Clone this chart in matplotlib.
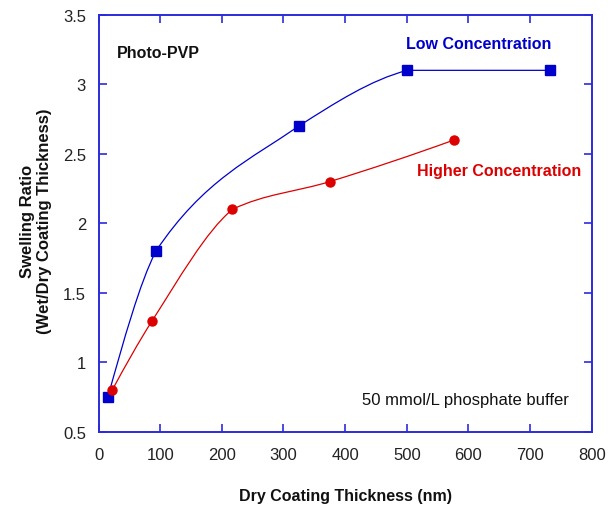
import numpy as np
import matplotlib
matplotlib.use("Agg")
import matplotlib.pyplot as plt
from matplotlib.path import Path
from matplotlib.patches import PathPatch

plt.rcParams['font.family'] = ['Liberation Sans', 'DejaVu Sans']

# data
low_x = [15, 93, 325, 501, 733]
low_y = [0.75, 1.8, 2.7, 3.1, 3.1]
high_x = [22, 87, 217, 375, 577]
high_y = [0.8, 1.3, 2.1, 2.3, 2.6]

xticks = [0, 100, 200, 300, 400, 500, 600, 700, 800]
yticks = [0.5, 1, 1.5, 2, 2.5, 3, 3.5]
ytick_labels = ['0.5', '1', '1.5', '2', '2.5', '3', '3.5']

blue = '#0000cc'
red = '#dd0000'
axis_col = '#2b2bdd'


def end_slope(h0, h1, m0, m1):
    v = ((2 * h0 + h1) * m0 - h0 * m1) / (h0 + h1)
    if np.sign(v) != np.sign(m0):
        v = 0
    elif np.sign(m0) != np.sign(m1) and abs(v) > abs(3 * m0):
        v = 3 * m0
    return v


def smooth_path(x, y):
    # cubic segments: arrive with the mean slope, leave with a monotone (pchip) slope
    x = np.asarray(x, float)
    y = np.asarray(y, float)
    n = len(x)
    h = np.diff(x)
    m = np.diff(y) / h
    d_in = np.zeros(n)
    d_out = np.zeros(n)
    for k in range(1, n - 1):
        d_in[k] = (m[k - 1] + m[k]) / 2
        if m[k - 1] * m[k] > 0:
            w1 = 2 * h[k] + h[k - 1]
            w2 = h[k] + 2 * h[k - 1]
            d_out[k] = (w1 + w2) / (w1 / m[k - 1] + w2 / m[k])
    d_out[0] = end_slope(h[0], h[1], m[0], m[1])
    d_in[-1] = end_slope(h[-1], h[-2], m[-1], m[-2])
    verts = [(x[0], y[0])]
    codes = [Path.MOVETO]
    for k in range(n - 1):
        verts += [(x[k] + h[k] / 3, y[k] + d_out[k] * h[k] / 3),
                  (x[k + 1] - h[k] / 3, y[k + 1] - d_in[k + 1] * h[k] / 3),
                  (x[k + 1], y[k + 1])]
        codes += [Path.CURVE4] * 3
    return Path(verts, codes)


fig = plt.figure(figsize=(6.16, 5.06), dpi=100)
ax = fig.add_axes([0.160, 0.1443, 0.8006, 0.8247])

ax.add_patch(PathPatch(smooth_path(low_x, low_y), fill=False, edgecolor=blue, lw=0.9))
ax.add_patch(PathPatch(smooth_path(high_x, high_y), fill=False, edgecolor=red, lw=0.9))
ax.plot(low_x, low_y, linestyle='none', marker='s', ms=6.5, color=blue)
ax.plot(high_x, high_y, linestyle='none', marker='o', ms=6.5, color=red)

ax.set_xlim(0, 800)
ax.set_ylim(0.5, 3.5)
ax.set_xticks(xticks)
ax.set_yticks(yticks)
ax.set_yticklabels(ytick_labels)
ax.tick_params(direction='in', top=True, right=True, length=6, width=1.2,
               color=axis_col, labelsize=12, labelcolor='#222222')
ax.tick_params(axis='x', pad=11)
ax.tick_params(axis='y', pad=9)
for s in ax.spines.values():
    s.set_color(axis_col)
    s.set_linewidth(1.4)

ax.text(29, 3.23, 'Photo-PVP', fontsize=11.5, fontweight='bold', va='center', color='#111111')
ax.text(498, 3.29, 'Low Concentration', fontsize=11.5, fontweight='bold', va='center', color=blue)
ax.text(516, 2.38, 'Higher Concentration', fontsize=11.5, fontweight='bold', va='center', color=red)
ax.text(427, 0.735, '50 mmol/L phosphate buffer', fontsize=12, va='center', color='#111111')

fig.text(0.5606, 1 - 497 / 506, 'Dry Coating Thickness (nm)', fontsize=11.5, fontweight='bold',
         ha='center', va='center', color='#111111')
fig.text(36 / 616, 1 - 221 / 506, 'Swelling Ratio\n(Wet/Dry Coating Thickness)', fontsize=12,
         fontweight='bold', ha='center', va='center', rotation=90, linespacing=1.1,
         multialignment='center', color='#111111')

fig.savefig('out.png', dpi=100, facecolor='white')
